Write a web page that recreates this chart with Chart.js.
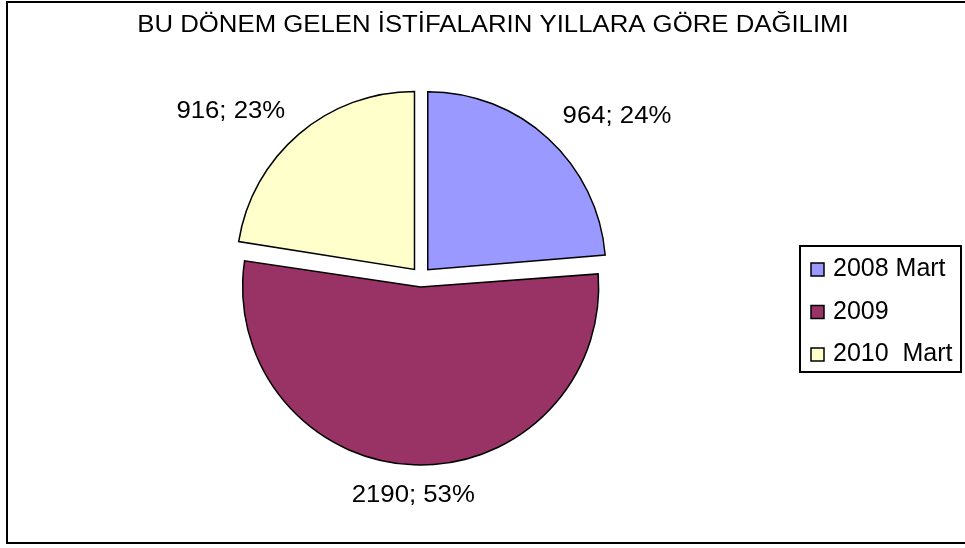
<!DOCTYPE html>
<html>
<head>
<meta charset="utf-8">
<script src="https://cdn.jsdelivr.net/npm/chart.js@4/dist/chart.umd.min.js"></script>
<style>
    html, body { margin: 0; padding: 0; background: #fff; }
    #wrap { width: 965px; height: 548px; }
</style>
</head>
<body>
<div id="wrap"><canvas id="pie" width="965" height="548"></canvas></div>
<script>
/* Chart values */
const titleText = "BU DÖNEM GELEN İSTİFALARIN YILLARA GÖRE DAĞILIMI";
const categories = ["2008 Mart", "2009", "2010  Mart"];
const counts = [964, 2190, 916];
const percentLabels = ["24%", "53%", "23%"];

/* Classic office palette */
const COLORS = {
    slices: ["#9999ff", "#993366", "#ffffcc"],
    border: "#000",
    text: "#000",
};
const FONT = "'Liberation Sans', Arial, sans-serif";

/* White page with the frame around the chart */
const framePlugin = {
    id: "frame",
    beforeDraw(chart) {
        const ctx = chart.ctx;
        ctx.save();
        ctx.fillStyle = "#fff";
        ctx.fillRect(0, 0, chart.width, chart.height);
        ctx.strokeStyle = COLORS.border;
        ctx.lineWidth = 2;
        ctx.strokeRect(7, 2, chart.width + 20, 541);
        ctx.restore();
    },
};

/* Exploded slices keep the same radius (Chart.js grows big slices by the offset) */
const equalRadiusPlugin = {
    id: "equalRadius",
    beforeDatasetsDraw(chart) {
        const meta = chart.getDatasetMeta(0);
        const base = meta.controller.outerRadius;
        meta.data.forEach(arc => {
            const off = (arc.options.offset || 0) / 4;
            const fix = 1 - Math.sin(Math.min(Math.PI, arc.circumference));
            arc.outerRadius = base - off * fix;
        });
    },
};

function drawStretched(ctx, text, x, y, size, stretch, align) {
    ctx.save();
    ctx.font = `${size}px ${FONT}`;
    ctx.fillStyle = COLORS.text;
    ctx.textBaseline = "alphabetic";
    ctx.textAlign = align;
    ctx.translate(x, y);
    ctx.scale(stretch, 1);
    ctx.fillText(text, 0, 0);
    ctx.restore();
}

/* "value; percent" labels outside each slice */
const sliceLabelPlugin = {
    id: "sliceLabels",
    afterDatasetsDraw(chart) {
        const ctx = chart.ctx;
        const meta = chart.getDatasetMeta(0);
        const size = 23, capH = size * 0.716, gap = 21;
        meta.data.forEach((arc, i) => {
            const mid = (arc.startAngle + arc.endAngle) / 2;
            const cos = Math.cos(mid), sin = Math.sin(mid);
            const shift = (arc.options.offset || 0) / 4;
            const dist = shift + meta.controller.outerRadius + gap;
            const px = arc.x + cos * dist;
            const py = arc.y + sin * dist;
            let align = "center";
            if (cos > 0.3) align = "left";
            else if (cos < -0.3) align = "right";
            let baseY = py + capH / 2;
            if (sin < -0.3) baseY = py;
            else if (sin > 0.3) baseY = py + capH;
            drawStretched(ctx, `${counts[i]}; ${percentLabels[i]}`, px, baseY, size, 1.12, align);
        });
    },
};

/* Title and boxed legend on the right */
const titleLegendPlugin = {
    id: "titleLegend",
    afterDraw(chart) {
        const ctx = chart.ctx;
        drawStretched(ctx, titleText, 493, 32, 23, 1.12, "center");

        ctx.save();
        ctx.strokeStyle = COLORS.border;
        ctx.lineWidth = 2;
        ctx.strokeRect(800, 246, 161, 126);
        ctx.font = `25px ${FONT}`;
        ctx.textBaseline = "alphabetic";
        ctx.textAlign = "left";
        categories.forEach((name, i) => {
            const base = 276 + i * 42.5;
            ctx.fillStyle = COLORS.slices[i];
            ctx.fillRect(811, base - 13, 13, 13);
            ctx.lineWidth = 1.5;
            ctx.strokeStyle = COLORS.border;
            ctx.strokeRect(811, base - 13, 13, 13);
            ctx.fillStyle = COLORS.text;
            ctx.fillText(name, 833, base);
        });
        ctx.restore();
    },
};

new Chart(document.getElementById("pie"), {
    type: "pie",
    data: {
        labels: categories,
        datasets: [{
            data: counts,
            backgroundColor: COLORS.slices,
            borderColor: COLORS.border,
            borderWidth: 1.5,
            borderJoinStyle: "miter",
            offset: 40,
            radius: 178,
        }],
    },
    options: {
        responsive: false,
        animation: false,
        events: [],
        layout: { padding: { left: 221, right: 344, top: 77, bottom: 71 } },
        plugins: {
            legend: { display: false },
            title: { display: false },
            tooltip: { enabled: false },
        },
    },
    plugins: [framePlugin, equalRadiusPlugin, sliceLabelPlugin, titleLegendPlugin],
});
</script>
</body>
</html>
